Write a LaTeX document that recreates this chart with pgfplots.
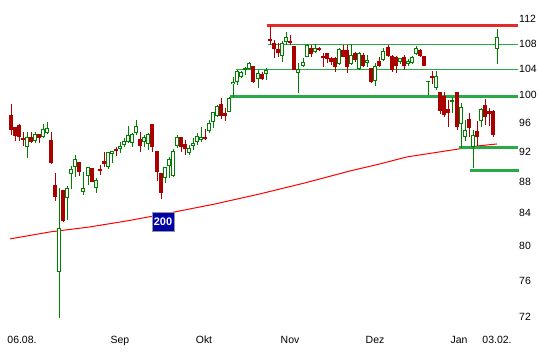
\documentclass[border=0pt]{standalone}
\usepackage{fontspec}
\setmainfont{Liberation Sans}
\usepackage{pgfplots}
\usepackage{pgfplotstable}
\pgfplotsset{compat=1.18}
\definecolor{cgreen}{RGB}{0,128,0}
\definecolor{cred}{RGB}{170,0,0}
\definecolor{lgreen}{RGB}{40,170,70}
\definecolor{lred}{RGB}{230,40,40}
\definecolor{maRed}{RGB}{255,0,0}
\definecolor{boxblue}{RGB}{0,0,170}
\definecolor{boxgray}{RGB}{150,150,150}
\pgfplotsset{candle/.style={only marks, mark size=0pt, mark options={draw=none,fill=none},
  error bars/.cd, y dir=plus, y explicit, error mark=none}}

% falling sessions (red): x o h l c
\pgfplotstableread{
x o h l c
11 97.15 98.75 94.32 95.02
15 95.44 95.44 93.48 94.18
19 95.72 95.86 93.48 94.04
23 93.90 94.74 92.79 93.62
31 94.04 94.74 93.20 93.34
39 94.46 94.46 93.20 93.90
51 93.62 94.74 90.37 90.50
55 87.60 89.16 85.55 86.06
63 86.96 86.96 82.82 82.95
79 90.63 90.63 88.77 89.30
92 89.83 89.83 87.90 87.99
100 89.69 90.23 88.90 89.43
104 90.77 91.98 89.96 90.36
116 92.39 92.66 91.44 92.11
140 93.76 94.74 91.98 92.79
152 95.86 95.86 91.98 92.66
157 92.11 92.11 88.12 89.30
161 89.16 89.16 85.81 86.58
181 94.04 94.04 91.98 92.66
185 93.07 93.62 91.57 92.39
205 94.04 95.16 93.62 93.76
221 98.75 99.62 96.57 97.01
225 97.44 98.16 96.29 97.01
253 104.46 104.46 101.87 102.02
262 103.23 103.54 102.32 102.48
270 108.73 110.83 107.76 108.41
274 108.08 108.57 105.71 107.13
278 107.13 108.08 105.87 106.50
290 108.41 109.37 107.76 108.08
294 107.60 107.60 103.84 103.84
311 107.29 107.76 105.87 106.34
319 107.29 107.44 106.81 106.97
323 106.02 106.50 104.31 105.71
327 106.50 106.50 104.93 105.56
331 105.71 105.87 104.62 105.09
335 105.71 105.87 103.54 104.31
343 106.97 107.76 105.87 105.87
347 106.97 107.76 103.38 104.31
355 106.50 106.65 105.09 105.40
363 106.18 106.50 104.31 104.46
371 104.15 104.15 101.87 102.02
379 105.24 105.87 104.31 104.46
388 107.44 107.76 105.87 106.02
392 106.02 106.18 103.54 103.84
396 105.87 106.02 103.38 104.46
404 105.87 106.18 103.84 104.46
420 106.97 107.13 105.87 106.02
424 106.02 106.02 104.46 104.46
432 102.93 103.69 101.71 102.63
440 100.52 100.52 97.29 97.72
444 99.92 100.52 96.86 97.15
448 98.02 99.33 95.44 97.44
457 100.52 100.52 95.02 95.44
469 96.57 97.44 94.04 95.30
477 94.88 96.29 92.79 94.04
485 98.60 99.48 95.72 96.86
489 97.72 98.16 95.58 97.29
493 97.72 97.87 94.04 94.32
}\down

% rising sessions (green): x o h l c
\pgfplotstableread{
x o h l c
27 92.65 94.74 91.17 94.04
35 93.48 94.74 93.20 94.46
43 94.04 95.86 93.90 95.16
47 94.60 96.15 94.46 95.30
59 77.00 87.22 71.92 82.09
67 85.93 87.47 83.15 87.22
71 89.03 90.10 87.09 89.69
75 89.96 91.57 88.64 91.04
83 86.70 89.30 86.32 87.22
88 88.77 89.96 87.60 89.96
96 87.22 88.51 86.58 88.25
108 89.96 91.98 89.69 91.98
112 91.71 92.11 90.50 92.11
120 92.39 93.34 91.84 92.79
124 92.93 93.90 92.66 93.48
128 93.34 95.58 93.20 94.32
132 93.20 94.60 92.66 94.46
136 94.60 96.43 94.32 95.58
144 93.34 94.32 92.66 94.04
148 93.07 94.60 92.25 94.46
165 88.51 89.96 87.86 89.96
169 90.10 91.30 88.51 91.04
173 88.77 92.39 88.64 92.11
177 92.79 94.32 92.52 94.04
189 91.84 92.93 91.57 92.52
193 92.79 93.90 92.25 93.20
197 93.34 94.60 92.93 94.18
201 93.62 95.44 93.34 94.04
209 94.88 96.43 94.60 96.00
213 96.15 97.58 95.30 97.58
217 97.01 98.60 96.86 98.45
229 97.58 99.77 97.58 99.62
233 101.71 102.78 99.77 102.02
237 102.02 103.84 101.56 103.69
241 102.78 103.69 102.63 103.54
245 103.84 104.31 103.08 104.15
249 104.00 105.09 103.84 104.93
258 102.48 103.84 101.11 103.38
266 103.23 104.15 102.32 103.84
282 106.02 108.41 105.09 108.08
286 108.25 109.86 107.76 109.05
298 103.38 104.93 100.37 104.00
303 104.46 105.71 104.31 105.09
307 105.87 107.92 105.87 107.76
315 106.65 107.92 106.50 107.29
339 104.77 107.29 104.62 107.13
351 104.77 107.92 104.62 106.18
359 104.00 106.65 103.84 106.50
367 104.93 106.18 104.31 105.40
375 102.17 104.93 101.41 104.46
383 105.40 107.29 105.24 106.81
400 105.09 105.71 104.77 105.71
408 104.77 105.56 104.46 105.24
412 104.93 106.02 104.77 105.87
416 106.34 107.60 106.18 107.29
428 102.02 102.17 100.07 102.17
436 101.11 103.69 100.81 102.93
452 99.04 99.77 97.44 99.33
461 95.86 98.89 92.52 98.31
465 94.04 96.43 93.48 95.02
473 92.66 95.02 89.83 94.32
481 96.29 98.16 95.44 98.02
497 107.13 110.35 104.77 109.05
}\up

\begin{document}
\begin{tikzpicture}
\useasboundingbox (0,-30bp) rectangle (540bp,330bp);
\begin{axis}[
  at={(0,0)}, anchor=south west,
  scale only axis, width=518bp, height=330bp,
  xmin=0, xmax=518, ymode=log, ymin=70.63, ymax=115.20,
  enlargelimits=false,
  separate axis lines, axis x line*=bottom, axis y line*=right,
  axis line style={draw=none},
  major tick length=0pt, minor tick num=0,
  /pgf/number format/assume math mode=true,
  xtick={22,120,204,290,375,459,497},
  xticklabels={06.08.,Sep,Okt,Nov,Dez,Jan,03.02.},
  ytick={72,76,80,84,88,92,96,100,104,108,112},
  yticklabels={72,76,80,84,88,92,96,100,104,108,112},
  tick label style={font=\fontsize{10.5}{12}\selectfont, inner sep=0pt, text=black},
  xticklabel style={anchor=base, yshift=-13.7bp},
  yticklabel style={anchor=west, xshift=1bp},
  clip=false,
]
% 200-day moving average
\addplot[maRed, line width=1bp, mark=none] coordinates {
 (10,80.83) (50,81.67) (90,82.28) (130,83.08) (170,84.01) (215,85.13)
 (260,86.41) (305,87.83) (350,89.40) (380,90.34) (407,91.28) (433,91.82)
 (459,92.37) (478,92.78) (497,93.05)};
% resistance / support lines
\addplot[lred, line width=3bp, mark=none] coordinates {(267,110.9) (518,110.9)};
\addplot[lgreen, line width=1bp, mark=none] coordinates {(268,107.77) (518,107.77)};
\addplot[lgreen, line width=1bp, mark=none] coordinates {(236,103.84) (518,103.84)};
\addplot[lgreen, line width=3bp, mark=none] coordinates {(230,99.88) (518,99.88)};
\addplot[lgreen, line width=3bp, mark=none] coordinates {(459,92.50) (518,92.50)};
\addplot[lgreen, line width=3.5bp, mark=none] coordinates {(470,89.48) (519,89.48)};

% red candles: wick and body
\addplot[candle, error bar style={line width=1bp, draw=cred}]
  table[x=x, y=l, y error expr=\thisrow{h}-\thisrow{l}] {\down};
\addplot[candle, error bar style={line width=3.5bp, draw=cred}]
  table[x=x, y=c, y error expr=\thisrow{o}-\thisrow{c}] {\down};
% green candles: wick, outline, hollow inside
\addplot[candle, error bar style={line width=1bp, draw=cgreen}]
  table[x=x, y=l, y error expr=\thisrow{h}-\thisrow{l}] {\up};
\addplot[candle, error bar style={line width=4bp, draw=cgreen}]
  table[x=x, y=o, y error expr=\thisrow{c}-\thisrow{o}] {\up};
\addplot[candle, error bar style={line width=2bp, draw=white}]
  table[x=x, y expr=\thisrow{o}*1.0015, y error expr={max(\thisrow{c}/1.0015-\thisrow{o}*1.0015,0)}] {\up};

\node[fill=boxblue, draw=boxgray, line width=1bp, text=white, inner sep=0pt,
  minimum width=22bp, minimum height=19bp,
  font=\fontsize{11}{12}\selectfont\bfseries] at (axis cs:163,82.88) {200};
\end{axis}
\end{tikzpicture}
\end{document}
